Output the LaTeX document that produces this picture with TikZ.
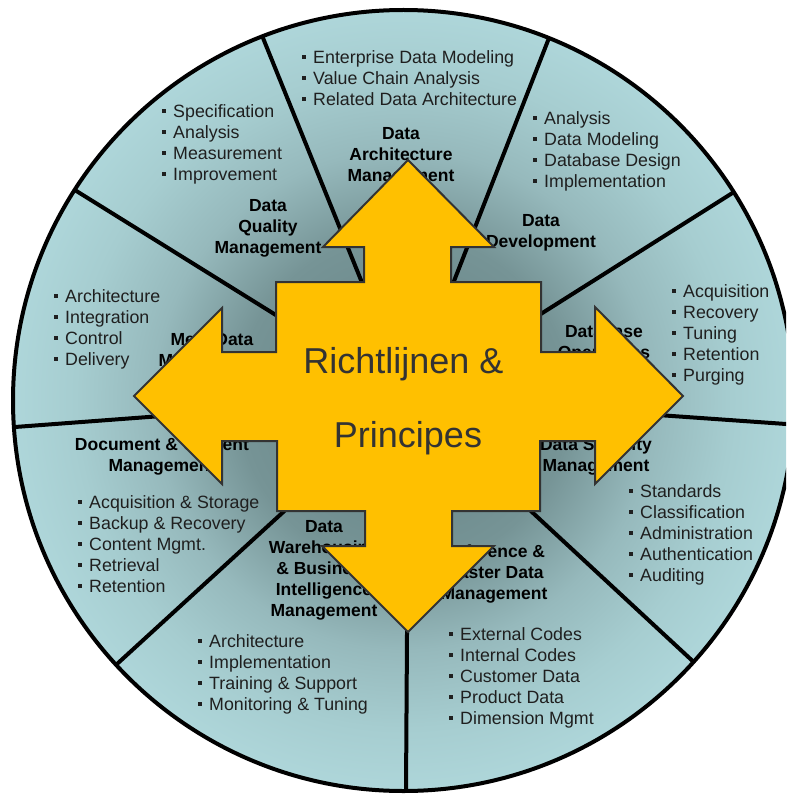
\documentclass[tikz,border=0pt]{standalone}
\usepackage{fontspec}
\setmainfont{Liberation Sans}
\usepackage{xcolor}
\usetikzlibrary{calc}
\def\wheel{(403.5,400.5) circle (390.5)}
\def\crossarrow{(408,160) -- (494,247) -- (451,247) -- (451,282) -- (541,282)
  -- (541,352) -- (595,352) -- (595,307) -- (683,396) -- (595,484) -- (595,441)
  -- (540,441) -- (540,511) -- (452,511) -- (452,546) -- (494,546) -- (408,632)
  -- (322,546) -- (365,546) -- (365,511) -- (277,511) -- (277,441) -- (222,441)
  -- (222,484) -- (134,396) -- (222,308) -- (222,352) -- (276,352) -- (276,282)
  -- (364,282) -- (364,247) -- (323,247) -- cycle}
\definecolor{wheelhub}{RGB}{100,128,130}
\definecolor{wheelmid}{RGB}{118,148,150}
\definecolor{wheelfade}{RGB}{150,185,188}
\definecolor{wheelpale}{RGB}{166,205,208}
\definecolor{wheelrim}{RGB}{180,221,225}
\definecolor{arrowfill}{RGB}{255,192,0}
\definecolor{arrowedge}{RGB}{51,51,51}
\colorlet{itemtext}{black!88}
\pgfdeclareradialshading{wheelshade}{\pgfpoint{0bp}{0bp}}{color(0bp)=(wheelhub);
  color(10.6bp)=(wheelmid); color(16bp)=(wheelfade); color(21bp)=(wheelpale);
  color(28bp)=(wheelrim); color(50bp)=(wheelrim)}
\newcommand{\bul}{\rule[0.28em]{0.22em}{0.22em}\hspace{0.4em}}
\tikzset{rim/.style={draw=black, line width=4pt},
    spoke/.style={draw=black, line width=4pt},
    items/.style={anchor=north west, align=left, inner sep=0pt, text=itemtext,
      font=\fontsize{17.8}{21}\selectfont},
    heading/.style={anchor=north, align=center, inner sep=0pt,
      font=\fontsize{17.5}{21}\selectfont\bfseries},
    bigarrow/.style={fill=arrowfill, draw=arrowedge, line width=2pt},
    motto/.style={anchor=base, inner sep=0pt, text=arrowedge,
      font=\fontsize{36}{40}\selectfont}}

\begin{document}
\begin{tikzpicture}[x=1pt,y=-1pt]
    \useasboundingbox (0,0) rectangle (786,794);
    \clip (0,0) rectangle (786,794);
    \coordinate (hub) at (408.5,397.5);
    \shade[shading=wheelshade] \wheel;
    \begin{scope}
        \clip \wheel;
        \foreach \px/\py in {263/38,549/38,734/192,786/424,698/666,
                             406/791,117/664,15/427,78/192}
            \draw[spoke] (hub) -- ($(hub)!1.1!(\px,\py)$);
    \end{scope}
    \draw[rim] \wheel;

    \node[items] (dam-items) at (302,50.7)
      {\bul Enterprise Data Modeling\\ \bul Value Chain Analysis\\ \bul Related Data Architecture};
    \node[heading] (dam-title) at (401,127.7) {Data\\ Architecture\\ Management};
    \node[items] (dq-items) at (162,104.7)
      {\bul Specification\\ \bul Analysis\\ \bul Measurement\\ \bul Improvement};
    \node[heading] (dq-title) at (268,199.7) {Data\\ Quality\\ Management};
    \node[items] (dd-items) at (533,111.7)
      {\bul Analysis\\ \bul Data Modeling\\ \bul Database Design\\ \bul Implementation};
    \node[heading] (dd-title) at (541,214.7) {Data\\ Development};
    \node[items] (dbo-items) at (672,284.7)
      {\bul Acquisition\\ \bul Recovery\\ \bul Tuning\\ \bul Retention\\ \bul Purging};
    \node[heading] (dbo-title) at (604,324.7) {Database\\ Operations\\ Management};
    \node[items] (ds-items) at (629,484.7)
      {\bul Standards\\ \bul Classification\\ \bul Administration\\ \bul Authentication\\ \bul Auditing};
    \node[heading] (ds-title) at (596,437.7) {Data Security\\ Management};
    \node[items] (rmd-items) at (449,627.7)
      {\bul External Codes\\ \bul Internal Codes\\ \bul Customer Data\\ \bul Product Data\\ \bul Dimension Mgmt};
    \node[heading] (rmd-title) at (494,544.7) {Reference \&\\ Master Data\\ Management};
    \node[items] (dwbi-items) at (198,634.7)
      {\bul Architecture\\ \bul Implementation\\ \bul Training \& Support\\ \bul Monitoring \& Tuning};
    \node[heading] (dwbi-title) at (324,520.7)
      {Data\\ Warehousing\\ \& Business\\ Intelligence\\ Management};
    \node[items] (dcm-items) at (78,495.7)
      {\bul Acquisition \& Storage\\ \bul Backup \& Recovery\\ \bul Content Mgmt.\\ \bul Retrieval\\ \bul Retention};
    \node[heading] (dcm-title) at (162,437.7) {Document \& Content\\ Management};
    \node[items] (md-items) at (54,289.7)
      {\bul Architecture\\ \bul Integration\\ \bul Control\\ \bul Delivery};
    \node[heading] (md-title) at (212,333.7) {Meta Data\\ Management};

    \draw[bigarrow] \crossarrow;
    \node[motto] (motto-top) at (403.5,373) {Richtlijnen \&};
    \node[motto] (motto-bottom) at (408,447) {Principes};
\end{tikzpicture}
\end{document}
